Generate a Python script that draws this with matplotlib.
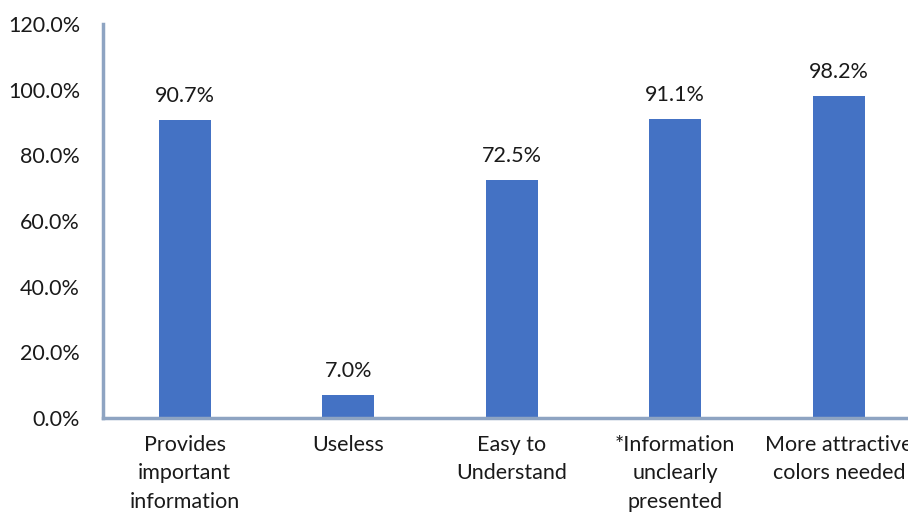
import matplotlib
matplotlib.use("Agg")
import matplotlib.pyplot as plt
from matplotlib.ticker import FuncFormatter

categories = ["Provides\nimportant\ninformation", "Useless", "Easy to\nUnderstand",
              "*Information\nunclearly\npresented", "More attractive\ncolors needed"]
values = [90.7, 7.0, 72.5, 91.1, 98.2]
yticks = [0, 20, 40, 60, 80, 100, 120]

plt.rcParams['font.family'] = ['Lato', 'DejaVu Sans']

fig = plt.figure(figsize=(9.08, 5.16), dpi=100)
ax = fig.add_axes([103 / 908, 98 / 516, 817.5 / 908, 394 / 516])

x = range(len(categories))
bars = ax.bar(x, values, width=0.32, color='#4472C4')

for xi, v in zip(x, values):
    ax.annotate(f"{v:.1f}%", (xi, v), xytext=(0, 10), textcoords='offset points',
                ha='center', va='bottom', fontsize=15.5, color='#1a1a1a')

ax.set_xlim(-0.5, len(categories) - 0.5)
ax.set_ylim(0, 120)
ax.set_yticks(yticks)
ax.yaxis.set_major_formatter(FuncFormatter(lambda v, p: f"{v:.1f}%"))
ax.set_xticks(list(x))
ax.set_xticklabels(categories, fontsize=15.5, linespacing=1.55, color='#1a1a1a')
ax.tick_params(axis='y', length=0, pad=16.5, labelsize=15.5, labelcolor='#1a1a1a')
ax.tick_params(axis='x', length=0, pad=12)

for side in ['top', 'right']:
    ax.spines[side].set_visible(False)
for side in ['left', 'bottom']:
    ax.spines[side].set_color('#8EA4C2')
    ax.spines[side].set_linewidth(2.5)

fig.savefig('out.png', dpi=100)
